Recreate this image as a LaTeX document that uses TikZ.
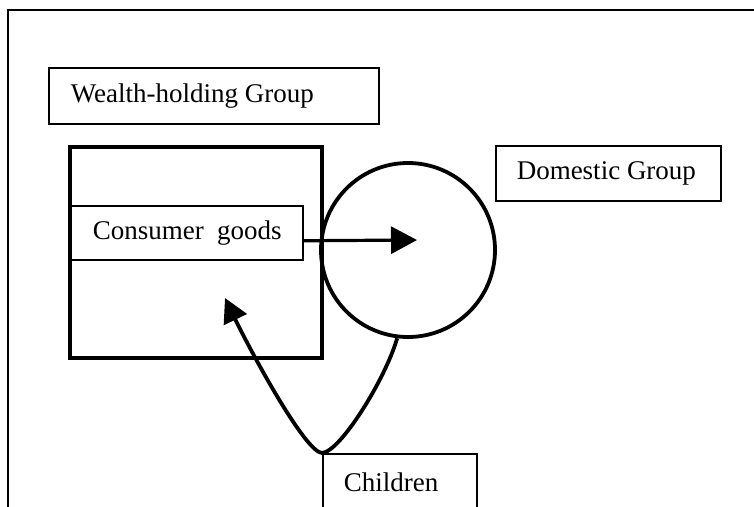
\documentclass[tikz,border=0pt]{standalone}
\usepackage{fontspec}
\setmainfont{Liberation Serif}
\usetikzlibrary{arrows.meta}
\begin{document}
\begin{tikzpicture}[x=1pt,y=-1pt,
  lbl/.style={draw, line width=1.5pt, rectangle, anchor=north west, inner ysep=0pt,
    fill=white, font=\fontsize{27}{30}\selectfont},
  heavy/.style={line width=3.8pt},
  bighead/.style={-{Triangle[length=26pt,width=27pt]}}]
\useasboundingbox (0,0) rectangle (754,506);
\clip (0,0) rectangle (754,506);
\fill[white] (0,0) rectangle (754,506);
% outer frame (top and left edges)
\coordinate (ftl) at (8,10);
\coordinate (ftr) at (760,10);
\coordinate (fbl) at (8,520);
\draw[line width=2pt] (ftr) -- (ftl) -- (fbl);
% wealth-holding group label
\node[lbl, inner xsep=22pt, minimum height=56pt] (wh) at (48,67) {\makebox[286pt][l]{Wealth-holding Group}};
% wealth square
\node[draw, heavy, rectangle, anchor=north west, minimum width=252pt, minimum height=211pt, inner sep=0pt] (sq) at (68,145) {};
% consumer goods
\node[lbl, inner xsep=22pt, minimum height=54pt] (cons) at (70,205) {\makebox[188pt][l]{Consumer\ \ goods}};
% domestic group circle
\node[draw, heavy, circle, minimum size=174pt, inner sep=0pt] (hh) at (408,250) {};
% domestic group label
\node[lbl, inner xsep=21pt, minimum height=55pt] (dg) at (495,145) {\makebox[183pt][l]{Domestic Group}};
% children
\node[lbl, inner xsep=21pt, minimum height=58pt] (kids) at (322,453) {\makebox[112pt][l]{Children}};
% goods arrow
\coordinate (gin) at (417,240);
\draw[line width=3.2pt, bighead] ([yshift=-8pt]cons.east) -- (gin);
% children return arrow
\coordinate (ret) at (225,298);
\draw[heavy, -{Triangle[length=24pt,width=25pt]}] (hh.263) .. controls (385,380) and (340,452) .. (kids.north west) .. controls (305,452) and (251,352) .. (ret);
\end{tikzpicture}
\end{document}
